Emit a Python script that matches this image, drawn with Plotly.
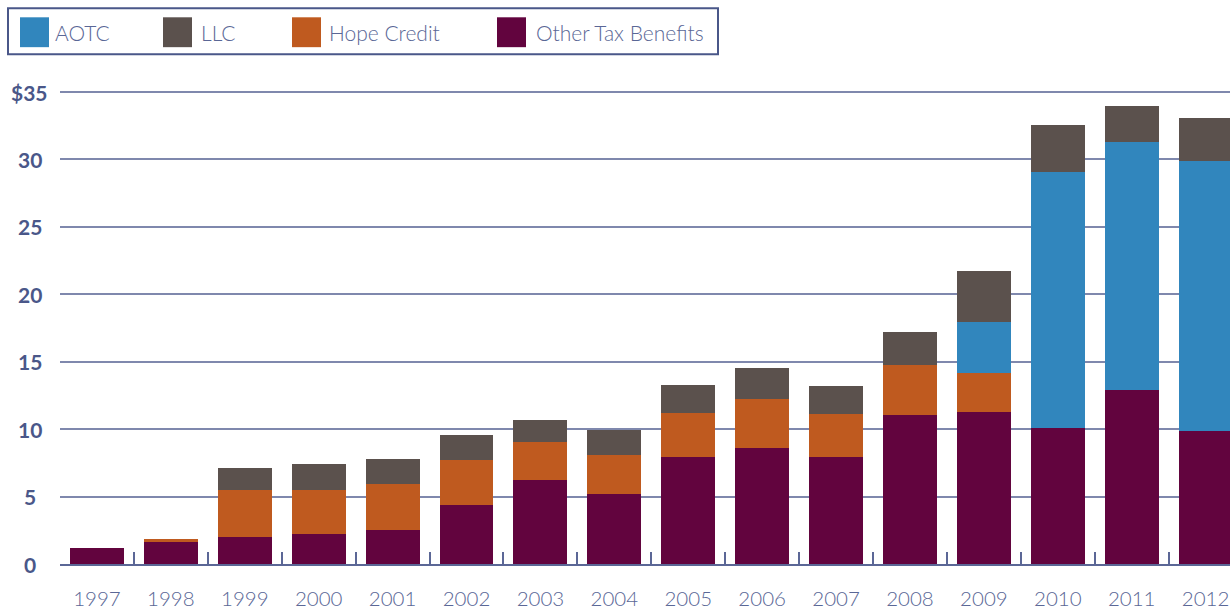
import plotly.graph_objects as go

years = [str(y) for y in range(1997, 2013)]
other = [1.2, 1.6, 2.0, 2.2, 2.5, 4.4, 6.25, 5.2, 7.9, 8.6, 7.95, 11.05, 11.3, 10.1, 12.9, 9.9]
hope = [0, 0.25, 3.5, 3.3, 3.4, 3.3, 2.8, 2.9, 3.3, 3.6, 3.2, 3.7, 2.9, 0, 0, 0]
aotc = [0, 0, 0, 0, 0, 0, 0, 0, 0, 0, 0, 0, 3.75, 19.0, 18.4, 20.0]
llc = [0, 0, 1.65, 1.95, 1.9, 1.85, 1.6, 1.85, 2.05, 2.35, 2.05, 2.45, 3.8, 3.45, 2.7, 3.2]

y_ticks = [0, 5, 10, 15, 20, 25, 30, 35]
y_ticktext = ["0", "5", "10", "15", "20", "25", "30", "$35"]

legend_names = ["AOTC", "LLC", "Hope Credit", "Other Tax Benefits"]
colors = {"AOTC": "#3186bd", "LLC": "#5b514d", "Hope Credit": "#bf5a1f", "Other Tax Benefits": "#62043e"}

W, H = 1230, 610
ML, MR, MT, MB = 60, 0, 88, 44
PW, PH = W - ML - MR, H - MT - MB

def px2x(px):
    return (px - ML) / PW

def px2y(py):
    return (H - MB - py) / PH

fig = go.Figure()
for name, vals in [("Other Tax Benefits", other), ("Hope Credit", hope), ("AOTC", aotc), ("LLC", llc)]:
    fig.add_trace(go.Bar(x=years, y=vals, name=name, marker=dict(color=colors[name], line=dict(width=0)),
                         showlegend=False, hoverinfo="x+y+name"))

axis_col = "#5b6796"
label_col = "#4a5789"

fig.update_layout(
    width=W, height=H,
    margin=dict(l=ML, r=MR, t=MT, b=MB, pad=0),
    barmode="stack", bargap=0.27,
    plot_bgcolor="white", paper_bgcolor="white",
    xaxis=dict(
        type="category", range=[-0.5, 15.33],
        showline=True, linecolor=axis_col, linewidth=2,
        ticks="inside", tickson="boundaries", ticklen=12, tickwidth=1.5, tickcolor=axis_col,
        showgrid=False,
        tickfont=dict(family="Lato", size=20.5, color="#5a6796", weight=300),
        ticklabelstandoff=15,
    ),
    yaxis=dict(
        range=[0, 35.3],
        tickvals=y_ticks,
        showgrid=True, gridcolor="#7f88ad", gridwidth=1.5,
        zeroline=False, showline=False, ticks="",
        showticklabels=False,
    ),
    font=dict(family="Lato"),
)

shapes = []
annotations = []
# y-axis labels, centered like the reference
for v, t in zip(y_ticks, y_ticktext):
    annotations.append(dict(xref="paper", yref="y", x=px2x(29.5), y=v, text=t,
                            showarrow=False, xanchor="center", yanchor="middle",
                            font=dict(family="Lato", size=21, color=label_col, weight="bold")))

# custom legend
shapes.append(dict(type="rect", xref="paper", yref="paper",
                   x0=px2x(8), x1=px2x(718), y0=px2y(8), y1=px2y(54),
                   line=dict(color="#4a5789", width=2), fillcolor="rgba(0,0,0,0)", layer="above"))
sw_x = [20, 163, 292, 497]
tx_x = [53, 199, 327, 534]
for name, sx, tx in zip(legend_names, sw_x, tx_x):
    shapes.append(dict(type="rect", xref="paper", yref="paper",
                       x0=px2x(sx), x1=px2x(sx + 29), y0=px2y(17), y1=px2y(47),
                       line=dict(width=0), fillcolor=colors[name], layer="above"))
    annotations.append(dict(xref="paper", yref="paper", x=px2x(tx), y=px2y(32),
                            text=name, showarrow=False, xanchor="left", yanchor="middle",
                            font=dict(family="Lato", size=21, color="#5a6796", weight=300)))
fig.update_layout(shapes=shapes, annotations=annotations)

fig.write_html("out.html")
